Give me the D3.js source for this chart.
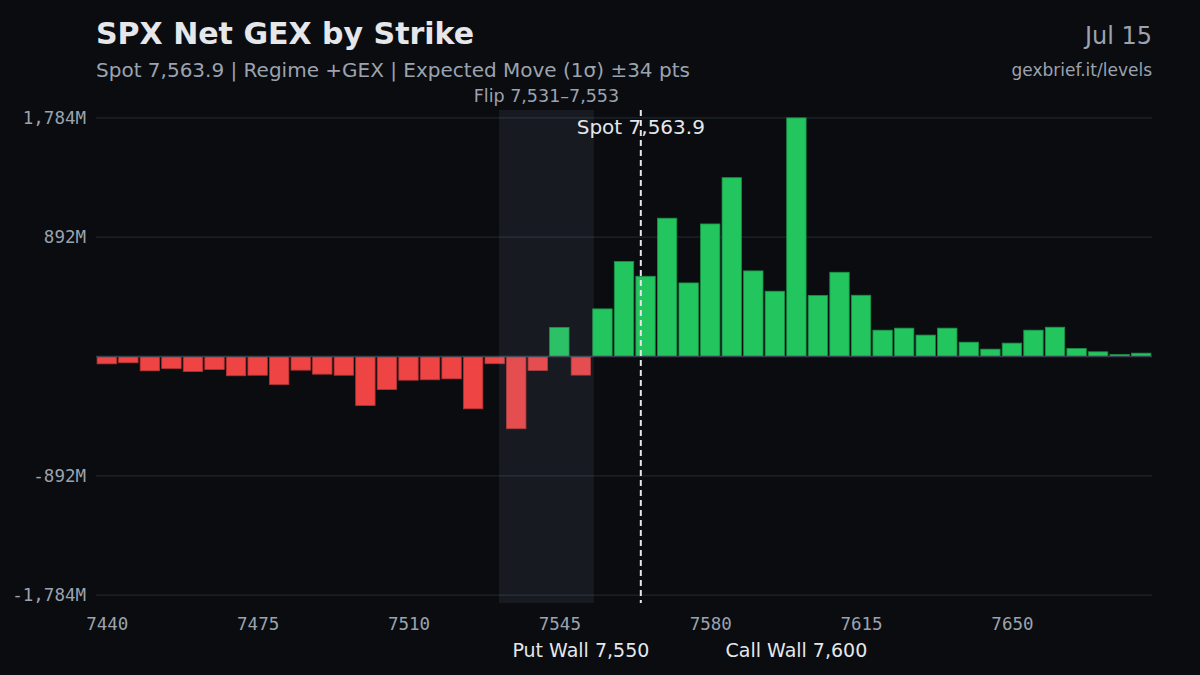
<!DOCTYPE html>
<html>
<head>
<meta charset="utf-8">
<script src="https://cdn.jsdelivr.net/npm/d3@7"></script>
<style>
  html, body { margin:0; padding:0; background:#0a0c10; }
  svg { display:block; font-family:"DejaVu Sans", sans-serif; }
  .axis text { font-family:"DejaVu Sans Mono", monospace; font-size:17.5px; fill:#9ca3af; }
  .axis path, .axis line { display:none; }
</style>
</head>
<body>
<svg width="1200" height="675"></svg>
<script>
const strikes = [7440,7445,7450,7455,7460,7465,7470,7475,7480,7485,7490,7495,7500,7505,7510,7515,7520,7525,7530,7535,
  7540,7545,7550,7555,7560,7565,7570,7575,7580,7585,7590,7595,7600,7605,7610,7615,7620,7625,7630,7635,
  7640,7645,7650,7655,7660,7665,7670,7675,7680]
// net GEX per strike, millions
const gex = [-55,-47,-107,-90,-112,-97,-144,-140,-209,-102,-132,-140,-366,-247,-177,-174,-167,-391,-54,-540,
  -105,217,-139,356,710,600,1034,550,991,1337,640,488,1784,457,630,458,197,212,160,212,
  107,55,100,197,219,60,35,15,25]
const yTicks = [-1784,-892,0,892,1784]
const xTicks = [7440,7475,7510,7545,7580,7615,7650]
const spot = 7563.9
const flip = [7531,7553]
const putWall = 7550, callWall = 7600

const svg = d3.select('svg'),
  margin = {top:110,right:48,bottom:72,left:96},
  width = svg.attr('width') - margin.left - margin.right,
  height = svg.attr('height') - margin.top - margin.bottom

const fmt = d3.format(',')

const x = d3.scaleLinear().domain([7437.5,7682.5]).range([0,width])
const y = d3.scaleLinear().domain([-1784*1.033,1784*1.033]).range([height,0])
const barW = (x(5)-x(0))*0.9

// header
svg.append('text').attr('x',96).attr('y',44)
  .attr('font-size',30).attr('font-weight','bold').attr('fill','#e5e7eb')
  .text('SPX Net GEX by Strike')
svg.append('text').attr('x',96).attr('y',77)
  .attr('font-size',20).attr('fill','#9ca3af')
  .text('Spot 7,563.9 | Regime +GEX | Expected Move (1σ) ±34 pts')
svg.append('text').attr('x',1152).attr('y',44).attr('text-anchor','end')
  .attr('font-size',24).attr('fill','#9ca3af').text('Jul 15')
svg.append('text').attr('x',1152).attr('y',76).attr('text-anchor','end')
  .attr('font-size',17).attr('fill','#9ca3af').text('gexbrief.it/levels')

const g = svg.append('g')
  .attr('transform',`translate(${margin.left},${margin.top})`)

// grid
g.selectAll('.grid').data(yTicks.filter(d => d!==0)).enter().append('line')
  .attr('class','grid')
  .attr('x1',0).attr('x2',width)
  .attr('y1',y).attr('y2',y)
  .attr('stroke','#1e252e').attr('stroke-width',1.2)

g.append('g').attr('class','axis axis--y')
  .call(d3.axisLeft(y).tickValues(yTicks).tickSize(0).tickPadding(10)
    .tickFormat(d => (d<0?'-':'')+fmt(Math.abs(d))+'M'))
  .selectAll('text').filter(d => d===0).remove()

g.append('g').attr('class','axis axis--x')
  .attr('transform',`translate(0,${height})`)
  .call(d3.axisBottom(x).tickValues(xTicks).tickSize(0).tickPadding(15).tickFormat(d3.format('d')))

// bars
g.selectAll('.bar').data(strikes).enter().append('rect')
  .attr('class','bar')
  .attr('x',d => x(d)-barW/2)
  .attr('width',barW)
  .attr('y',(d,i) => y(Math.max(0,gex[i])))
  .attr('height',(d,i) => Math.abs(y(gex[i])-y(0)))
  .attr('fill',(d,i) => gex[i]>=0 ? '#22c55e' : '#ef4444')
  .attr('stroke',(d,i) => gex[i]>=0 ? '#1c8f47' : '#b13434')
  .attr('stroke-width',0.8)

// zero line
g.append('line')
  .attr('x1',0).attr('x2',width)
  .attr('y1',y(0)).attr('y2',y(0))
  .attr('stroke','#3a414c').attr('stroke-width',1.5)

// flip zone
g.append('rect')
  .attr('x',x(flip[0])).attr('width',x(flip[1])-x(flip[0]))
  .attr('y',0).attr('height',height)
  .attr('fill','#94a3b8').attr('fill-opacity',0.1)
g.append('text')
  .attr('x',(x(flip[0])+x(flip[1]))/2).attr('y',-8)
  .attr('text-anchor','middle').attr('font-size',17.5).attr('fill','#9ca3af')
  .text(`Flip ${fmt(flip[0])}–${fmt(flip[1])}`)

// spot
g.append('line')
  .attr('x1',x(spot)).attr('x2',x(spot))
  .attr('y1',0).attr('y2',height)
  .attr('stroke','#e5e7eb').attr('stroke-width',2).attr('stroke-dasharray','6,4')
g.append('text')
  .attr('x',x(spot)).attr('y',24)
  .attr('text-anchor','middle').attr('font-size',20).attr('fill','#e5e7eb')
  .text(`Spot ${d3.format(',.1f')(spot)}`)

// walls
g.append('text')
  .attr('x',x(putWall)).attr('y',height+54)
  .attr('text-anchor','middle').attr('font-size',19).attr('fill','#e5e7eb')
  .text(`Put Wall ${fmt(putWall)}`)
g.append('text')
  .attr('x',x(callWall)).attr('y',height+54)
  .attr('text-anchor','middle').attr('font-size',19).attr('fill','#e5e7eb')
  .text(`Call Wall ${fmt(callWall)}`)
</script>
</body>
</html>
